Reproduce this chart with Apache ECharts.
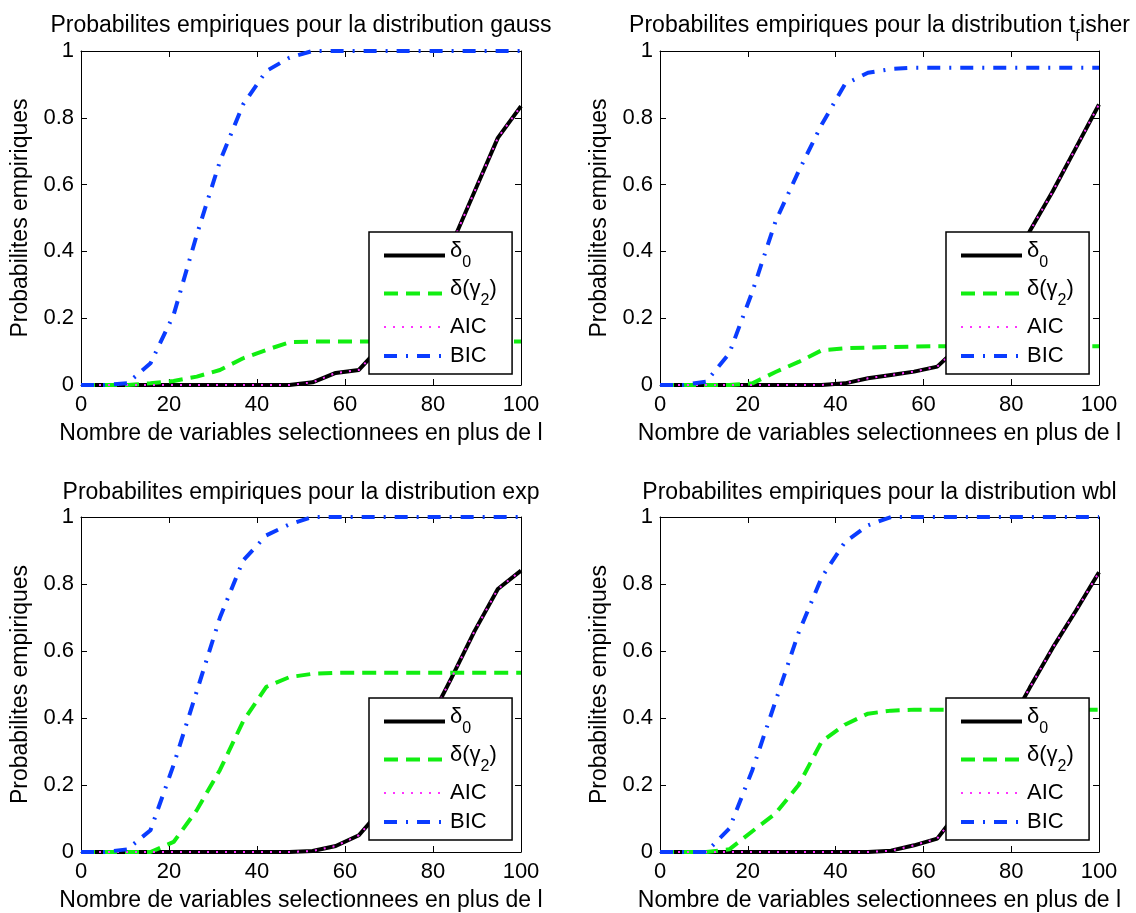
<!DOCTYPE html>
<html>
<head>
<meta charset="utf-8">
<script src="https://cdn.jsdelivr.net/npm/echarts@6/dist/echarts.min.js"></script>
<style>
  html, body { margin: 0; padding: 0; background: #fff; }
  #chart { width: 1136px; height: 913px; }
</style>
</head>
<body>
<div id="chart"></div>
<script>
// x positions of the points (number of selected variables)
const xs = [0, 5.26, 10.53, 15.79, 21.05, 26.32, 31.58, 36.84, 42.11, 47.37,
            52.63, 57.89, 63.16, 68.42, 73.68, 78.95, 84.21, 89.47, 94.74, 100];

// gauss
const d0Gauss  = [0, 0, 0, 0, 0, 0, 0, 0, 0, 0, 0.008, 0.036, 0.045, 0.12, 0.2, 0.3, 0.42, 0.58, 0.74, 0.835];
const g2Gauss  = [0, 0, 0, 0.005, 0.012, 0.025, 0.045, 0.08, 0.105, 0.128, 0.13, 0.13, 0.13, 0.13, 0.13, 0.13, 0.13, 0.13, 0.13, 0.13];
const bicGauss = [0, 0, 0.005, 0.065, 0.21, 0.45, 0.67, 0.84, 0.94, 0.98, 1, 1, 1, 1, 1, 1, 1, 1, 1, 1];
// t fisher
const d0Fisher  = [0, 0, 0, 0, 0, 0, 0, 0, 0.005, 0.02, 0.03, 0.04, 0.055, 0.12, 0.21, 0.33, 0.46, 0.58, 0.71, 0.84];
const g2Fisher  = [0, 0, 0, 0, 0.005, 0.039, 0.069, 0.104, 0.11, 0.112, 0.114, 0.115, 0.116, 0.116, 0.116, 0.116, 0.116, 0.116, 0.116, 0.116];
const bicFisher = [0, 0, 0.01, 0.095, 0.28, 0.49, 0.64, 0.78, 0.9, 0.935, 0.946, 0.95, 0.95, 0.95, 0.95, 0.95, 0.95, 0.95, 0.95, 0.95];
// exp
const d0Exp  = [0, 0, 0, 0, 0, 0, 0, 0, 0, 0, 0.003, 0.018, 0.05, 0.13, 0.25, 0.385, 0.52, 0.66, 0.785, 0.84];
const g2Exp  = [0, 0, 0, 0, 0.03, 0.125, 0.245, 0.39, 0.493, 0.522, 0.532, 0.535, 0.535, 0.535, 0.535, 0.535, 0.535, 0.535, 0.535, 0.535];
const bicExp = [0, 0, 0.008, 0.065, 0.26, 0.48, 0.7, 0.87, 0.945, 0.978, 1, 1, 1, 1, 1, 1, 1, 1, 1, 1];
// wbl
const d0Wbl  = [0, 0, 0, 0, 0, 0, 0, 0, 0, 0, 0.004, 0.02, 0.04, 0.13, 0.245, 0.365, 0.49, 0.61, 0.72, 0.835];
const g2Wbl  = [0, 0, 0, 0.008, 0.062, 0.115, 0.2, 0.33, 0.38, 0.413, 0.422, 0.425, 0.425, 0.425, 0.425, 0.425, 0.425, 0.425, 0.425, 0.425];
const bicWbl = [0, 0, 0, 0.07, 0.245, 0.45, 0.655, 0.82, 0.925, 0.975, 1, 1, 1, 1, 1, 1, 1, 1, 1, 1];
// AIC lies exactly on delta_0 in every panel
const aicGauss = d0Gauss, aicFisher = d0Fisher, aicExp = d0Exp, aicWbl = d0Wbl;

const xTicks = [0, 20, 40, 60, 80, 100];
const yTicks = [0, 0.2, 0.4, 0.6, 0.8, 1];
const xName = 'Nombre de variables selectionnees en plus de l';
const yName = 'Probabilites empiriques';
const FONT = "'Liberation Sans', Arial, Helvetica, sans-serif";

const panels = [
  { title: '{n|Probabilites empiriques pour la distribution gauss}', d0: d0Gauss, g2: g2Gauss, aic: aicGauss, bic: bicGauss,
    box: [81, 51, 440, 334], leg: [369, 232], ty: 14 },
  { title: '{n|Probabilites empiriques pour la distribution t}{s|f}{h| }{n|isher}', d0: d0Fisher, g2: g2Fisher, aic: aicFisher, bic: bicFisher,
    box: [660, 51, 439, 334], leg: [946, 232], ty: 14 },
  { title: '{n|Probabilites empiriques pour la distribution exp}', d0: d0Exp, g2: g2Exp, aic: aicExp, bic: bicExp,
    box: [81, 517, 440, 335], leg: [369, 698], ty: 481 },
  { title: '{n|Probabilites empiriques pour la distribution wbl}', d0: d0Wbl, g2: g2Wbl, aic: aicWbl, bic: bicWbl,
    box: [660, 517, 439, 335], leg: [946, 698], ty: 481 }
];

const legendLabels = {
  d0: '{a|δ}{s|0}{h| }',
  g2: '{a|δ(γ}{s|2}{a|)}{h| }',
  AIC: 'AIC',
  BIC: 'BIC'
};

const grid = [], xAxis = [], yAxis = [], series = [], legend = [], graphic = [];
const axisLine = { show: true, onZero: false, lineStyle: { color: '#000', width: 1 } };
const axisTick = { show: true, inside: true, length: 6, lineStyle: { color: '#000', width: 1 } };
const tickTxt = { color: '#000', fontSize: 22, fontFamily: FONT };
const nameTxt = { color: '#000', fontSize: 23, fontFamily: FONT };

panels.forEach((p, i) => {
  const [l, t, w, h] = p.box;
  grid.push({ left: l, top: t, width: w, height: h });
  xAxis.push({ gridIndex: i, type: 'value', min: xTicks[0], max: xTicks[xTicks.length - 1], interval: 20,
    position: 'bottom', axisLine, axisTick, splitLine: { show: false },
    axisLabel: Object.assign({ margin: 9 }, tickTxt),
    name: xName, nameLocation: 'middle', nameGap: 37, nameTextStyle: nameTxt });
  xAxis.push({ gridIndex: i, type: 'value', min: 0, max: 100, interval: 20, position: 'top',
    axisLine, axisTick, axisLabel: { show: false }, splitLine: { show: false } });
  yAxis.push({ gridIndex: i, type: 'value', min: yTicks[0], max: yTicks[yTicks.length - 1], interval: 0.2,
    position: 'left', axisLine, axisTick, splitLine: { show: false },
    axisLabel: Object.assign({ margin: 7 }, tickTxt),
    name: yName, nameLocation: 'middle', nameGap: 49, nameTextStyle: nameTxt });
  yAxis.push({ gridIndex: i, type: 'value', min: 0, max: 1, interval: 0.2, position: 'right',
    axisLine, axisTick, axisLabel: { show: false }, splitLine: { show: false } });

  const base = { type: 'line', xAxisIndex: 2 * i, yAxisIndex: 2 * i, symbol: 'none', showSymbol: false, animation: false };
  const pts = arr => xs.map((x, k) => [x, arr[k]]);
  series.push(Object.assign({ name: 'd0', data: pts(p.d0), color: '#000',
    lineStyle: { color: '#000', width: 4 } }, base));
  series.push(Object.assign({ name: 'g2', data: pts(p.g2), color: '#11ee11',
    lineStyle: { color: '#11ee11', width: 4, type: [14, 8] } }, base));
  series.push(Object.assign({ name: 'AIC', data: pts(p.aic), color: '#ff33ff',
    lineStyle: { color: '#ff33ff', width: 2, type: [2, 7] } }, base));
  series.push(Object.assign({ name: 'BIC', data: pts(p.bic), color: '#0a3cff',
    lineStyle: { color: '#0a3cff', width: 4, type: [13, 9, 2, 9] } }, base));

  legend.push({
    orient: 'vertical', left: p.leg[0], top: p.leg[1], z: 10,
    data: ['d0', 'g2', 'AIC', 'BIC'], formatter: n => legendLabels[n],
    itemWidth: 61, itemHeight: 10, itemGap: 7, padding: [8, 15, 7, 13],
    backgroundColor: '#fff', borderColor: '#000', borderWidth: 1.5, borderRadius: 0,
    selectedMode: false, itemStyle: { opacity: 0, borderWidth: 0 },
    lineStyle: { width: 'inherit' },
    textStyle: {
      color: '#000', fontSize: 22, lineHeight: 22, fontFamily: FONT,
      rich: {
        a: { color: '#000', fontSize: 22, fontFamily: FONT, lineHeight: 14, verticalAlign: 'top' },
        s: { color: '#000', fontSize: 16, fontFamily: FONT, lineHeight: 25, verticalAlign: 'bottom' },
        h: { fontSize: 1, lineHeight: 31 }
      }
    }
  });

  graphic.push({
    type: 'text', x: l + w / 2, y: p.ty,
    style: {
      text: p.title, align: 'center', verticalAlign: 'top', fill: '#000',
      rich: {
        n: { fontSize: 23, fontFamily: FONT, lineHeight: 24, verticalAlign: 'top', fill: '#000' },
        s: { fontSize: 16, fontFamily: FONT, lineHeight: 16, verticalAlign: 'bottom', fill: '#000' },
        h: { fontSize: 1, lineHeight: 31 }
      }
    }
  });
});

const chart = echarts.init(document.getElementById('chart'));
chart.setOption({
  backgroundColor: '#fff',
  animation: false,
  grid, xAxis, yAxis, series, legend, graphic
});
</script>
</body>
</html>
